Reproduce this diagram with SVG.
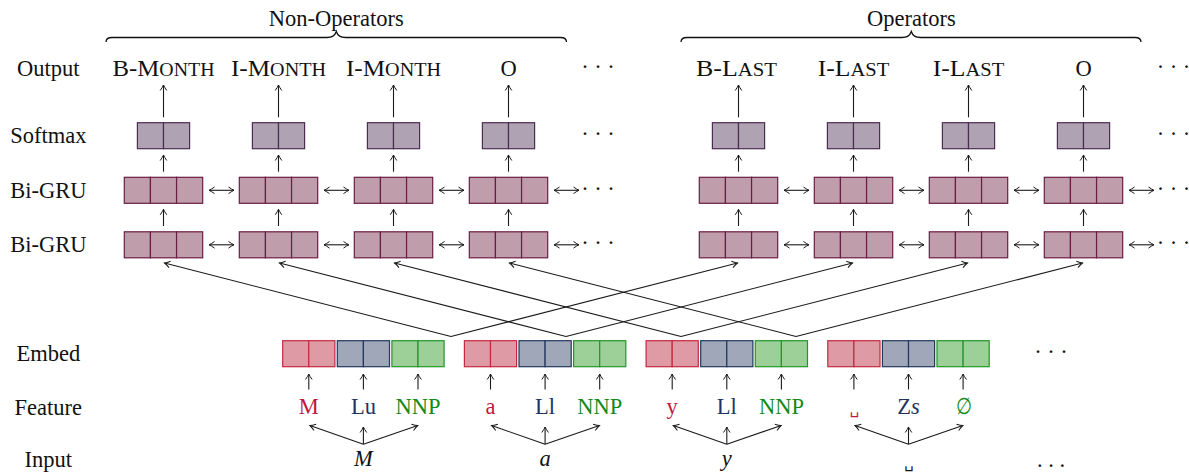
<svg xmlns="http://www.w3.org/2000/svg" xmlns:xlink="http://www.w3.org/1999/xlink" width="1189" height="474" viewBox="0 0 1189 474">
<style>
.t{font-family:'Liberation Serif','DejaVu Serif',serif;font-size:22.5px;fill:#111}
.i{font-style:italic}
.sc{font-size:18px}
.mid{text-anchor:middle}
.vs{font-family:'DejaVu Sans',sans-serif;font-size:15px}
.sm{fill:#afa2b3;stroke:#4b2d52;stroke-width:1.2}
.gru{fill:#bf9dab;stroke:#6b1d45;stroke-width:1.2}
.er{fill:#de9ba5;stroke:#c5283f;stroke-width:1.2}
.eb{fill:#9fa7b8;stroke:#22385f;stroke-width:1.2}
.eg{fill:#9dcf98;stroke:#22962a;stroke-width:1.2}
.ln{stroke:#1a1a1a;stroke-width:1.1;fill:none}
.ar{marker-end:url(#ah)}
.da{marker-start:url(#ah);marker-end:url(#ah)}
.brace{stroke:#111;stroke-width:1.3;fill:none}
.cr{fill:#c0183a}
.cb{fill:#1e3461}
.cg{fill:#13891a}
</style>
<defs>
<marker id="ah" markerUnits="userSpaceOnUse" refX="0" refY="0" markerWidth="12" markerHeight="12" orient="auto-start-reverse" overflow="visible">
<path d="M-5.5,-3.3 Q-2,-0.8 0,0 Q-2,0.8 -5.5,3.3" fill="none" stroke="#1a1a1a" stroke-width="1"/>
</marker>
<g id="smbox"><rect class="sm" x="-26.1" y="0" width="26.1" height="26"/><rect class="sm" x="0" y="0" width="26.1" height="26"/></g>
<g id="grubox"><rect class="gru" x="-39.2" y="0" width="26.13" height="26"/><rect class="gru" x="-13.07" y="0" width="26.13" height="26"/><rect class="gru" x="13.07" y="0" width="26.13" height="26"/></g>
<g id="emb">
<rect class="er" x="0" y="0" width="26.1" height="26"/><rect class="er" x="26.1" y="0" width="26.1" height="26"/>
<rect class="eb" x="54.6" y="0" width="26.1" height="26"/><rect class="eb" x="80.7" y="0" width="26.1" height="26"/>
<rect class="eg" x="109.2" y="0" width="26.1" height="26"/><rect class="eg" x="135.3" y="0" width="26.1" height="26"/>
</g>
</defs>

<g id="braces">
<path class="brace" d="M106,42 C106,38.8 108,37.5 112,37.5 L327,37.5 C332.5,37.5 335,35.5 336.3,31.5 C337.6,35.5 340,37.5 345.5,37.5 L560.5,37.5 C564.5,37.5 566.5,38.8 566.5,42"/>
<text class="t mid" x="336.3" y="26">Non-Operators</text>
<path class="brace" d="M681,42 C681,38.8 683,37.5 687,37.5 L902,37.5 C907.5,37.5 910,35.5 911.3,31.5 C912.6,35.5 915,37.5 920.5,37.5 L1135,37.5 C1139,37.5 1141,38.8 1141,42"/>
<text class="t mid" x="911.3" y="26">Operators</text>
</g>

<g id="row-labels">
<text class="t mid" x="48.3" y="75.7">Output</text>
<text class="t mid" x="48.3" y="143.2">Softmax</text>
<text class="t mid" x="48.3" y="197.8">Bi-GRU</text>
<text class="t mid" x="48.3" y="252.3">Bi-GRU</text>
<text class="t mid" x="48.3" y="361.2">Embed</text>
<text class="t mid" x="48.3" y="414.5">Feature</text>
<text class="t mid" x="48.3" y="466.5">Input</text>
</g>

<g id="outputs">
<text class="t mid" x="163.5" y="75.7" textLength="102" lengthAdjust="spacingAndGlyphs">B-M<tspan class="sc">ONTH</tspan></text>
<text class="t mid" x="278.5" y="75.7" textLength="95" lengthAdjust="spacingAndGlyphs">I-M<tspan class="sc">ONTH</tspan></text>
<text class="t mid" x="393.5" y="75.7" textLength="95" lengthAdjust="spacingAndGlyphs">I-M<tspan class="sc">ONTH</tspan></text>
<text class="t mid" x="508.5" y="75.7">O</text>
<text class="t mid" x="736.5" y="75.7" textLength="81" lengthAdjust="spacingAndGlyphs">B-L<tspan class="sc">AST</tspan></text>
<text class="t mid" x="853.5" y="75.7" textLength="71.5" lengthAdjust="spacingAndGlyphs">I-L<tspan class="sc">AST</tspan></text>
<text class="t mid" x="968.5" y="75.7" textLength="71.5" lengthAdjust="spacingAndGlyphs">I-L<tspan class="sc">AST</tspan></text>
<text class="t mid" x="1083.5" y="75.7">O</text>
</g>

<g id="softmax">
<g id="softmax-1"><use xlink:href="#smbox" x="163.5" y="122.7"/></g>
<g id="softmax-2"><use xlink:href="#smbox" x="278.5" y="122.7"/></g>
<g id="softmax-3"><use xlink:href="#smbox" x="393.5" y="122.7"/></g>
<g id="softmax-4"><use xlink:href="#smbox" x="508.5" y="122.7"/></g>
<g id="softmax-5"><use xlink:href="#smbox" x="738.5" y="122.7"/></g>
<g id="softmax-6"><use xlink:href="#smbox" x="853.5" y="122.7"/></g>
<g id="softmax-7"><use xlink:href="#smbox" x="968.5" y="122.7"/></g>
<g id="softmax-8"><use xlink:href="#smbox" x="1083.5" y="122.7"/></g>
</g>

<g id="bigru-top">
<g id="gru1-1"><use xlink:href="#grubox" x="163.5" y="177.3"/></g>
<g id="gru1-2"><use xlink:href="#grubox" x="278.5" y="177.3"/></g>
<g id="gru1-3"><use xlink:href="#grubox" x="393.5" y="177.3"/></g>
<g id="gru1-4"><use xlink:href="#grubox" x="508.5" y="177.3"/></g>
<g id="gru1-5"><use xlink:href="#grubox" x="738.5" y="177.3"/></g>
<g id="gru1-6"><use xlink:href="#grubox" x="853.5" y="177.3"/></g>
<g id="gru1-7"><use xlink:href="#grubox" x="968.5" y="177.3"/></g>
<g id="gru1-8"><use xlink:href="#grubox" x="1083.5" y="177.3"/></g>
</g>

<g id="bigru-bottom">
<g id="gru2-1"><use xlink:href="#grubox" x="163.5" y="231.8"/></g>
<g id="gru2-2"><use xlink:href="#grubox" x="278.5" y="231.8"/></g>
<g id="gru2-3"><use xlink:href="#grubox" x="393.5" y="231.8"/></g>
<g id="gru2-4"><use xlink:href="#grubox" x="508.5" y="231.8"/></g>
<g id="gru2-5"><use xlink:href="#grubox" x="738.5" y="231.8"/></g>
<g id="gru2-6"><use xlink:href="#grubox" x="853.5" y="231.8"/></g>
<g id="gru2-7"><use xlink:href="#grubox" x="968.5" y="231.8"/></g>
<g id="gru2-8"><use xlink:href="#grubox" x="1083.5" y="231.8"/></g>
</g>

<g id="embeds">
<g id="embed-1"><use xlink:href="#emb" x="282.7" y="340.7"/></g>
<g id="embed-2"><use xlink:href="#emb" x="464.4" y="340.7"/></g>
<g id="embed-3"><use xlink:href="#emb" x="646.1" y="340.7"/></g>
<g id="embed-4"><use xlink:href="#emb" x="827.8" y="340.7"/></g>
</g>

<g id="features">
<g id="feat-1">
<text class="t mid cr" x="308.8" y="414.3">M</text>
<text class="t mid cb" x="363.4" y="414.3">Lu</text>
<text class="t mid cg" x="418" y="414.3">NNP</text>
</g>
<g id="feat-2">
<text class="t mid cr" x="490.5" y="414.3">a</text>
<text class="t mid cb" x="545.1" y="414.3">Ll</text>
<text class="t mid cg" x="599.7" y="414.3">NNP</text>
</g>
<g id="feat-3">
<text class="t mid cr" x="672.2" y="414.3">y</text>
<text class="t mid cb" x="726.8" y="414.3">Ll</text>
<text class="t mid cg" x="781.4" y="414.3">NNP</text>
</g>
<g id="feat-4">
<text class="vs mid cr" x="854.5" y="414.3">␣</text>
<text class="t mid cb" x="908.5" y="414.3">Z<tspan class="i">s</tspan></text>
<text class="t mid cg" x="963.1" y="414.3" transform="translate(963.1,0) scale(0.8,1) translate(-963.1,0)">∅</text>
</g>
</g>

<g id="inputs">
<text class="t mid i" x="363.4" y="466">M</text>
<text class="t mid i" x="545.1" y="466">a</text>
<text class="t mid i" x="726.8" y="466">y</text>
<text class="vs mid" x="909" y="468" style="fill:#111">␣</text>
</g>

<g id="ellipses">
<text class="t mid" x="598" y="73.5">· · ·</text>
<text class="t mid" x="598" y="141">· · ·</text>
<text class="t mid" x="598" y="195.6">· · ·</text>
<text class="t mid" x="598" y="250.1">· · ·</text>
<text class="t mid" x="1173.5" y="73.5">· · ·</text>
<text class="t mid" x="1173.5" y="141">· · ·</text>
<text class="t mid" x="1173.5" y="195.6">· · ·</text>
<text class="t mid" x="1173.5" y="250.1">· · ·</text>
<text class="t mid" x="1051" y="358.6">· · ·</text>
<text class="t mid" x="1051" y="466.5">. . .</text>
</g>

<g id="connectors">
<line class="ln ar" x1="163.5" y1="117.3" x2="163.5" y2="85"/>
<line class="ln ar" x1="278.5" y1="117.3" x2="278.5" y2="85"/>
<line class="ln ar" x1="393.5" y1="117.3" x2="393.5" y2="85"/>
<line class="ln ar" x1="508.5" y1="117.3" x2="508.5" y2="85"/>
<line class="ln ar" x1="738.5" y1="117.3" x2="738.5" y2="85"/>
<line class="ln ar" x1="853.5" y1="117.3" x2="853.5" y2="85"/>
<line class="ln ar" x1="968.5" y1="117.3" x2="968.5" y2="85"/>
<line class="ln ar" x1="1083.5" y1="117.3" x2="1083.5" y2="85"/>
<line class="ln ar" x1="163.5" y1="171.7" x2="163.5" y2="155"/>
<line class="ln ar" x1="278.5" y1="171.7" x2="278.5" y2="155"/>
<line class="ln ar" x1="393.5" y1="171.7" x2="393.5" y2="155"/>
<line class="ln ar" x1="508.5" y1="171.7" x2="508.5" y2="155"/>
<line class="ln ar" x1="738.5" y1="171.7" x2="738.5" y2="155"/>
<line class="ln ar" x1="853.5" y1="171.7" x2="853.5" y2="155"/>
<line class="ln ar" x1="968.5" y1="171.7" x2="968.5" y2="155"/>
<line class="ln ar" x1="1083.5" y1="171.7" x2="1083.5" y2="155"/>
<line class="ln ar" x1="163.5" y1="226" x2="163.5" y2="209.3"/>
<line class="ln ar" x1="278.5" y1="226" x2="278.5" y2="209.3"/>
<line class="ln ar" x1="393.5" y1="226" x2="393.5" y2="209.3"/>
<line class="ln ar" x1="508.5" y1="226" x2="508.5" y2="209.3"/>
<line class="ln ar" x1="738.5" y1="226" x2="738.5" y2="209.3"/>
<line class="ln ar" x1="853.5" y1="226" x2="853.5" y2="209.3"/>
<line class="ln ar" x1="968.5" y1="226" x2="968.5" y2="209.3"/>
<line class="ln ar" x1="1083.5" y1="226" x2="1083.5" y2="209.3"/>
<line class="ln da" x1="209" y1="190.3" x2="234" y2="190.3"/>
<line class="ln da" x1="324" y1="190.3" x2="349" y2="190.3"/>
<line class="ln da" x1="439" y1="190.3" x2="464" y2="190.3"/>
<line class="ln da" x1="554" y1="190.3" x2="579" y2="190.3"/>
<line class="ln da" x1="784" y1="190.3" x2="809" y2="190.3"/>
<line class="ln da" x1="899" y1="190.3" x2="924" y2="190.3"/>
<line class="ln da" x1="1014" y1="190.3" x2="1039" y2="190.3"/>
<line class="ln da" x1="1129" y1="190.3" x2="1154" y2="190.3"/>
<line class="ln da" x1="209" y1="244.8" x2="234" y2="244.8"/>
<line class="ln da" x1="324" y1="244.8" x2="349" y2="244.8"/>
<line class="ln da" x1="439" y1="244.8" x2="464" y2="244.8"/>
<line class="ln da" x1="554" y1="244.8" x2="579" y2="244.8"/>
<line class="ln da" x1="784" y1="244.8" x2="809" y2="244.8"/>
<line class="ln da" x1="899" y1="244.8" x2="924" y2="244.8"/>
<line class="ln da" x1="1014" y1="244.8" x2="1039" y2="244.8"/>
<line class="ln da" x1="1129" y1="244.8" x2="1154" y2="244.8"/>
<line class="ln ar" x1="451" y1="336.5" x2="164.5" y2="263"/>
<line class="ln ar" x1="451" y1="336.5" x2="737.5" y2="263"/>
<line class="ln ar" x1="566" y1="336.5" x2="279.5" y2="263"/>
<line class="ln ar" x1="566" y1="336.5" x2="852.5" y2="263"/>
<line class="ln ar" x1="681" y1="336.5" x2="394.5" y2="263"/>
<line class="ln ar" x1="681" y1="336.5" x2="967.5" y2="263"/>
<line class="ln ar" x1="796" y1="336.5" x2="509.5" y2="263"/>
<line class="ln ar" x1="796" y1="336.5" x2="1082.5" y2="263"/>
<line class="ln ar" x1="308.8" y1="389.5" x2="308.8" y2="374"/>
<line class="ln ar" x1="363.4" y1="389.5" x2="363.4" y2="374"/>
<line class="ln ar" x1="418" y1="389.5" x2="418" y2="374"/>
<line class="ln ar" x1="490.5" y1="389.5" x2="490.5" y2="374"/>
<line class="ln ar" x1="545.1" y1="389.5" x2="545.1" y2="374"/>
<line class="ln ar" x1="599.7" y1="389.5" x2="599.7" y2="374"/>
<line class="ln ar" x1="672.2" y1="389.5" x2="672.2" y2="374"/>
<line class="ln ar" x1="726.8" y1="389.5" x2="726.8" y2="374"/>
<line class="ln ar" x1="781.4" y1="389.5" x2="781.4" y2="374"/>
<line class="ln ar" x1="853.9" y1="389.5" x2="853.9" y2="374"/>
<line class="ln ar" x1="908.5" y1="389.5" x2="908.5" y2="374"/>
<line class="ln ar" x1="963.1" y1="389.5" x2="963.1" y2="374"/>
<line class="ln ar" x1="363.4" y1="444.3" x2="309.9" y2="425.5"/>
<line class="ln ar" x1="363.4" y1="444.3" x2="363.4" y2="427"/>
<line class="ln ar" x1="363.4" y1="444.3" x2="417.7" y2="425.5"/>
<line class="ln ar" x1="545.1" y1="444.3" x2="491.6" y2="425.5"/>
<line class="ln ar" x1="545.1" y1="444.3" x2="545.1" y2="427"/>
<line class="ln ar" x1="545.1" y1="444.3" x2="599.4" y2="425.5"/>
<line class="ln ar" x1="726.8" y1="444.3" x2="673.3" y2="425.5"/>
<line class="ln ar" x1="726.8" y1="444.3" x2="726.8" y2="427"/>
<line class="ln ar" x1="726.8" y1="444.3" x2="781.1" y2="425.5"/>
<line class="ln ar" x1="908.5" y1="444.3" x2="855" y2="425.5"/>
<line class="ln ar" x1="908.5" y1="444.3" x2="908.5" y2="427"/>
<line class="ln ar" x1="908.5" y1="444.3" x2="962.8" y2="425.5"/>
</g>
</svg>
